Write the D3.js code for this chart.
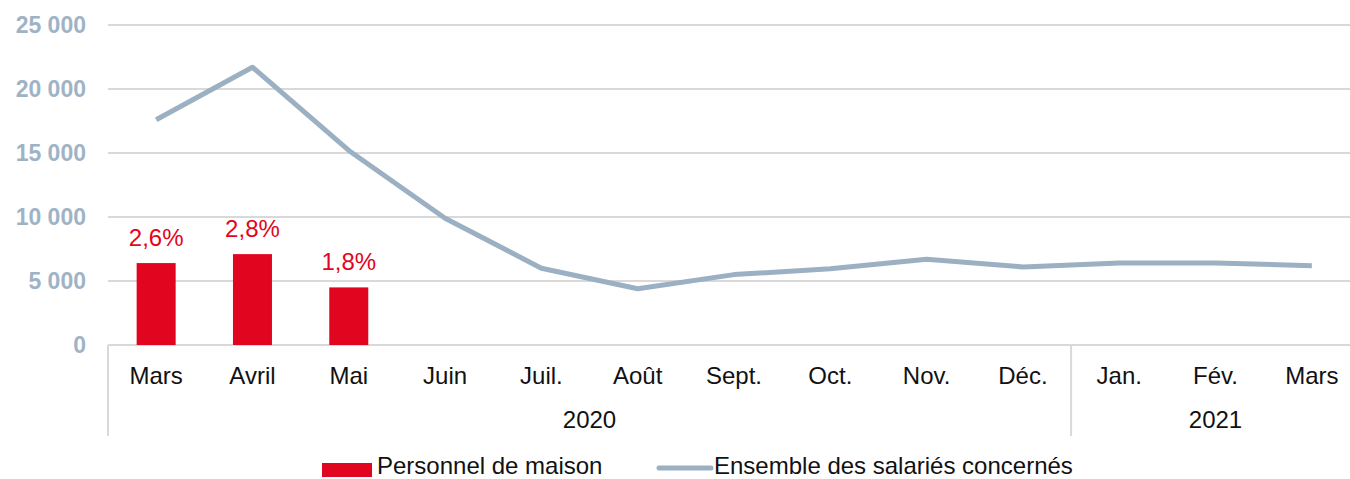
<!DOCTYPE html>
<html>
<head>
<meta charset="utf-8">
<script src="https://cdn.jsdelivr.net/npm/d3@7"></script>
<style>
  html, body { margin: 0; padding: 0; background: #fff; }
  svg { display: block; font-family: "Liberation Sans", Arial, sans-serif; }
</style>
</head>
<body>
<svg id="chart" width="1350" height="479"></svg>
<script>
// Categories (months) and year groups
const months = ["Mars", "Avril", "Mai", "Juin", "Juil.", "Août", "Sept.", "Oct.", "Nov.", "Déc.", "Jan.", "Fév.", "Mars"];
const years = [
  { label: "2020", from: 0, to: 9 },
  { label: "2021", from: 10, to: 12 }
];
// Household staff (bars), only first three months
const personnel = [6400, 7100, 4500];
const personnelLabels = ["2,6%", "2,8%", "1,8%"];
// All employees concerned (line)
const ensemble = [17600, 21700, 15200, 9900, 6000, 4400, 5500, 5950, 6700, 6100, 6400, 6400, 6200];
const yTicks = [0, 5000, 10000, 15000, 20000, 25000];

const svg = d3.select("#chart");
const plotLeft = 108, plotRight = 1360, plotTop = 25, plotBottom = 345;

const x = d3.scaleBand().domain(d3.range(months.length)).range([plotLeft, plotRight]).paddingInner(0).paddingOuter(0);
const y = d3.scaleLinear().domain([0, 25000]).range([plotBottom, plotTop]);

const fmt = v => d3.format(",")(v).replace(/,/g, " ");

// Horizontal gridlines
svg.append("g").selectAll("line").data(yTicks).join("line")
  .attr("x1", plotLeft).attr("x2", 1350)
  .attr("y1", d => y(d)).attr("y2", d => y(d))
  .attr("stroke", "#d9d9d9").attr("stroke-width", 2);

// Y axis tick labels
svg.append("g").selectAll("text").data(yTicks).join("text")
  .attr("x", 86).attr("y", d => y(d)).attr("dy", "0.36em")
  .attr("text-anchor", "end")
  .attr("font-size", 23).attr("font-weight", "bold")
  .attr("fill", "#9fb3c5")
  .text(fmt);

// Bars
const barW = x.bandwidth() * 0.405;
svg.append("g").selectAll("rect").data(personnel).join("rect")
  .attr("x", (d, i) => x(i) + (x.bandwidth() - barW) / 2)
  .attr("y", d => y(d))
  .attr("width", barW)
  .attr("height", d => y(0) - y(d))
  .attr("fill", "#e20520");

// Bar labels
svg.append("g").selectAll("text").data(personnel).join("text")
  .attr("x", (d, i) => x(i) + x.bandwidth() / 2)
  .attr("y", d => y(d) - 17)
  .attr("text-anchor", "middle")
  .attr("font-size", 24)
  .attr("fill", "#e20520")
  .text((d, i) => personnelLabels[i]);

// Line
const line = d3.line()
  .x((d, i) => x(i) + x.bandwidth() / 2)
  .y(d => y(d));
svg.append("path").datum(ensemble)
  .attr("d", line)
  .attr("fill", "none")
  .attr("stroke", "#9bb0c2")
  .attr("stroke-width", 5)
  .attr("stroke-linejoin", "round");

// Category axis: year separators
const sepX = [plotLeft, x(10)];
svg.append("g").selectAll("line").data(sepX).join("line")
  .attr("x1", d => d).attr("x2", d => d)
  .attr("y1", plotBottom).attr("y2", 436)
  .attr("stroke", "#d9d9d9").attr("stroke-width", 2);

// Month labels
svg.append("g").selectAll("text").data(months).join("text")
  .attr("x", (d, i) => x(i) + x.bandwidth() / 2)
  .attr("y", 384)
  .attr("text-anchor", "middle")
  .attr("font-size", 24)
  .attr("fill", "#111")
  .text(d => d);

// Year labels
svg.append("g").selectAll("text").data(years).join("text")
  .attr("x", d => (x(d.from) + x(d.to) + x.bandwidth()) / 2)
  .attr("y", 428)
  .attr("text-anchor", "middle")
  .attr("font-size", 24)
  .attr("fill", "#111")
  .text(d => d.label);

// Legend
const lg = svg.append("g");
lg.append("rect").attr("x", 322).attr("y", 463).attr("width", 50).attr("height", 14).attr("fill", "#e20520");
lg.append("text").attr("x", 377).attr("y", 474).attr("font-size", 24).attr("fill", "#111").text("Personnel de maison");
lg.append("line").attr("x1", 659).attr("x2", 711).attr("y1", 468).attr("y2", 468)
  .attr("stroke", "#9bb0c2").attr("stroke-width", 5).attr("stroke-linecap", "round");
lg.append("text").attr("x", 714).attr("y", 474).attr("font-size", 24).attr("fill", "#111").text("Ensemble des salariés concernés");
</script>
</body>
</html>
